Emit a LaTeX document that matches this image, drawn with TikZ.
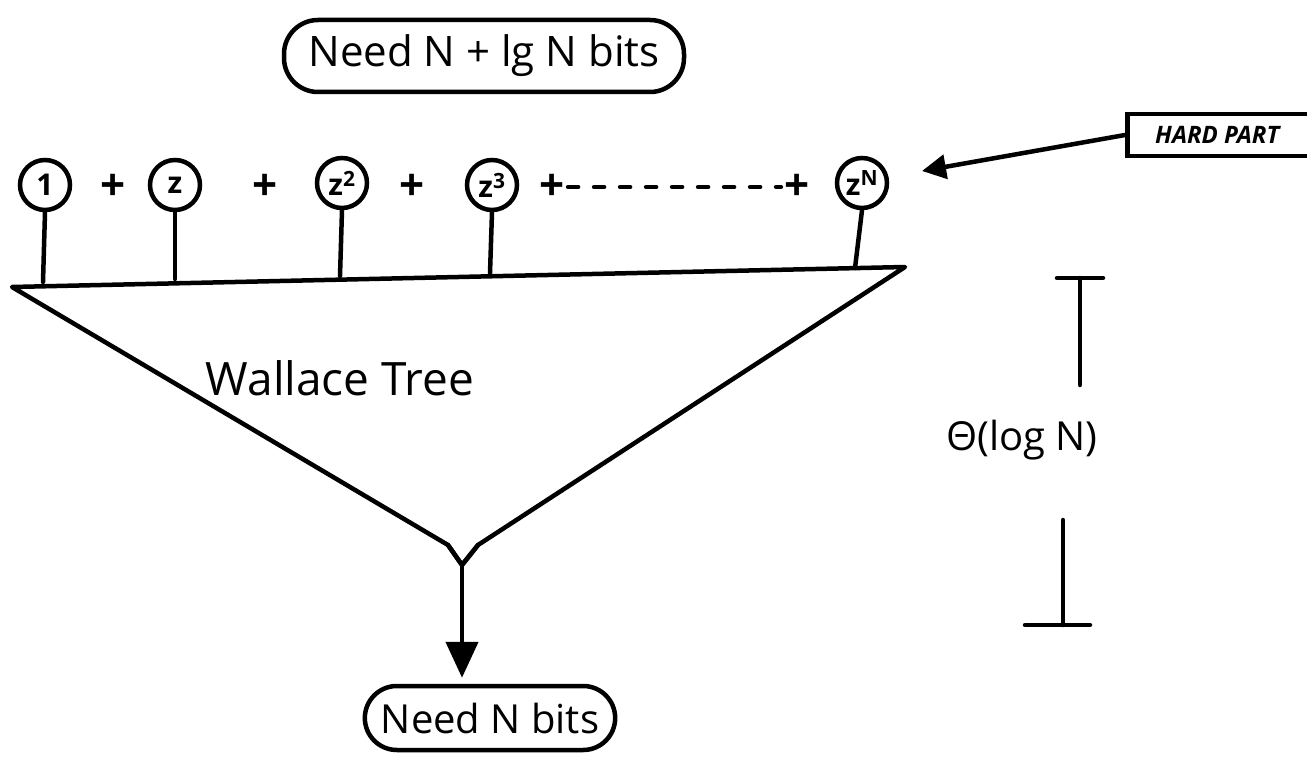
\documentclass[tikz,border=0pt]{standalone}
\usepackage{fontspec}
\setmainfont{Open Sans}
\usetikzlibrary{arrows.meta,shapes.geometric,calc}
\begin{document}
\begin{tikzpicture}[x=1pt,y=-1pt,
  ink/.style={line width=4.5pt,line cap=round,line join=round},
  term/.style={circle,draw,line width=4.5pt,minimum size=50pt,inner sep=0pt,font=\fontsize{30}{32}\selectfont\bfseries},
  plus/.style={font=\fontsize{44}{46}\selectfont\bfseries},
  pill/.style={draw,line width=4.5pt,rounded corners=34pt,inner xsep=16pt,inner ysep=8pt},
  tip/.style={-{Triangle[length=36pt,width=32pt]}},
  smalltip/.style={-{Triangle[length=24pt,width=24pt]}}
]
\useasboundingbox (0,0) rectangle (1307,762);
\fill[white] (0,0) rectangle (1307,762);

% header and result labels
\node[pill,minimum width=400pt,minimum height=72pt,font=\fontsize{42}{46}\selectfont] (top) at (484,56) {Need N + lg N bits};
\node[pill,minimum width=244pt,minimum height=64pt,rounded corners=32pt,font=\fontsize{40}{44}\selectfont] (res) at (490,718) {Need N bits};

% terms of the sum
\node[term] (t0) at (45,185) {1};
\node[term] (t1) at (175,185) {z};
\node[term] (t2) at (342,183) {z\textsuperscript{2}};
\node[term] (t3) at (492,185) {z\textsuperscript{3}};
\node[term] (tn) at (862,183) {z\textsuperscript{N}};
\node[plus] (p1) at (113,187) {+};
\node[plus] (p2) at (265,187) {+};
\node[plus] (p3) at (412,187) {+};
\node[plus] (p4) at (552,187) {+};
\node[plus] (p5) at (797,187) {+};
\draw[ink,dash pattern=on 10pt off 16pt] (p4.east) -- (p5.west);

% Wallace tree
\coordinate (tl) at (12,287);
\coordinate (tr) at (905,267);
\coordinate (jl) at (448,545);
\coordinate (jr) at (478,545);
\coordinate (jn) at (462,565);
\draw[ink] (tl) -- (tr) -- (jr) -- (jn) -- (jl) -- cycle;
\fill[white] ($(jl)+(3,-1)$) -- ($(jr)+(-3,-1)$) -- ($(jn)+(0,-8)$) -- cycle;
\draw[ink] (jl) -- (jn) -- (jr);
\node[font=\fontsize{46}{50}\selectfont] (wt) at (340,378) {Wallace Tree};

% stems from terms into the tree
\coordinate (s0) at (43,282);
\coordinate (s1) at (175,279);
\coordinate (s2) at (340,276);
\coordinate (s3) at (490,273);
\coordinate (sn) at (855,268);
\draw[ink] (t0.south) -- (s0);
\draw[ink] (t1.south) -- (s1);
\draw[ink] (t2.south) -- (s2);
\draw[ink] (t3.south) -- (s3);
\draw[ink] (tn.south) -- (sn);

% output arrow
\draw[ink,tip] (jn) -- ($(jn |- res.north)+(0,-6)$);

% hard part callout
\node[draw,line width=4.5pt,minimum height=42pt,minimum width=200pt,inner xsep=8pt,anchor=west,align=left,font=\itshape\bfseries\fontsize{24}{26}\selectfont] (hard) at (1125,135) {HARD PART\hspace{20pt}};
\coordinate (aim) at (922,171);
\draw[ink,smalltip] (hard.west) -- (aim);

% depth bracket
\node[font=\fontsize{40}{44}\selectfont] (depth) at (1022,440) {Θ(log N)};
\coordinate (ua) at (1057,278);
\coordinate (ub) at (1103,278);
\coordinate (uc) at (1080,278);
\coordinate (ud) at (1080,385);
\coordinate (la) at (1025,625);
\coordinate (lb) at (1090,625);
\coordinate (lc) at (1063,625);
\coordinate (ld) at (1063,520);
\draw[ink] (ua) -- (ub);
\draw[ink] (uc) -- (ud);
\draw[ink] (la) -- (lb);
\draw[ink] (lc) -- (ld);
\end{tikzpicture}
\end{document}
